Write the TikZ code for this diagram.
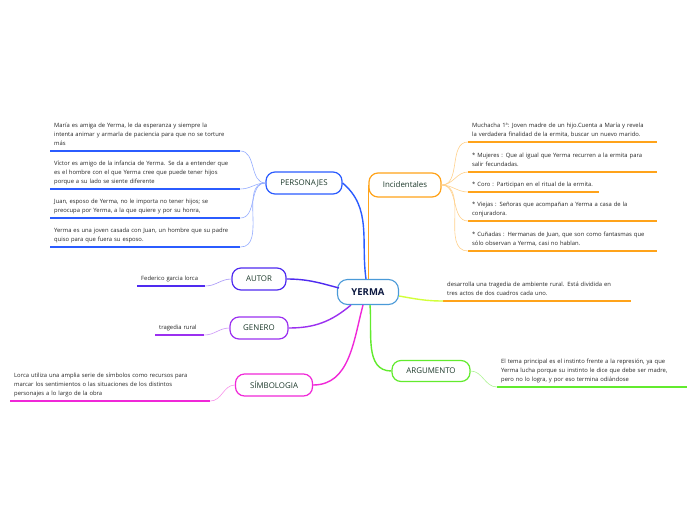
\documentclass[tikz,border=0pt]{standalone}
\usepackage{fontspec}
\setmainfont{Open Sans}
\usetikzlibrary{calc}
\definecolor{ymInk}{HTML}{1E3A2C}
\definecolor{ymText}{HTML}{262626}
\definecolor{ymRoot}{HTML}{4A9AD8}
\definecolor{ymPers}{HTML}{2B5CFF}
\definecolor{ymInc}{HTML}{FFA31A}
\definecolor{ymAut}{HTML}{4F2BF0}
\definecolor{ymGen}{HTML}{9B30F0}
\definecolor{ymSim}{HTML}{F028D8}
\definecolor{ymArg}{HTML}{62EB2E}
\definecolor{ymLime}{HTML}{D2FF3A}
\tikzset{
  ymroot/.style={
    draw=ymRoot, fill=white, line width=1.1pt, rounded corners=10pt,
    minimum width=61pt, minimum height=25pt, text=ymInk!70!blue!60!black,
    font=\fontsize{9.5}{11}\selectfont\bfseries,
  },
  ymtopic/.style={
    draw=#1, fill=white, line width=1.2pt, rounded corners=9pt,
    minimum height=22pt, text=ymInk, font=\fontsize{7.9}{9}\selectfont,
  },
  ymleaf/.style={
    text=ymText, font=\fontsize{5.85}{8.7}\selectfont, align=left,
    anchor=south west, inner xsep=4pt, inner ysep=3pt,
  },
  ymrule/.style={draw=#1, line width=1.6pt},
  ymtwig/.style={draw=#1!50, line width=0.6pt},
  ymlink/.style={draw=#1, line width=1.4pt},
}
% name, colour, x, y of rule, text width, text
\newcommand{\ymleaf}[6]{%
  \node[ymleaf, text width=#5pt] (#1) at (#3,#4) {#6\strut};%
  \draw[ymrule=#2] (#1.south west) -- (#1.south east);%
}

\begin{document}
\begin{tikzpicture}[x=1pt, y=-1pt]
\useasboundingbox[fill=white] (0,0) rectangle (696,520);

% Centre and branches ------------------------------------------------------
\node[ymroot] (yerma) at (368,292) {YERMA};
\node[ymtopic=ymPers, minimum width=76pt] (pers) at (304,183) {PERSONAJES};
\node[ymtopic=ymInc, minimum width=72pt, minimum height=24pt] (incid) at (405,185) {Incidentales};
\node[ymtopic=ymAut, minimum width=54pt] (autor) at (259,279) {AUTOR};
\node[ymtopic=ymGen, minimum width=58pt] (genero) at (259,328) {GENERO};
\node[ymtopic=ymSim, minimum width=77pt] (simb) at (274,385) {SÍMBOLOGIA};
\node[ymtopic=ymArg, minimum width=78pt, minimum height=21pt] (argum) at (431,371) {ARGUMENTO};

% Personajes ---------------------------------------------------------------
\ymleaf{p1}{ymPers}{50}{151}{182}{María es amiga de Yerma, le da esperanza y siempre la\\
  intenta animar y armarla de paciencia para que no se torture\\ más}
\ymleaf{p2}{ymPers}{50}{189}{182}{Víctor es amigo de la infancia de Yerma. Se da a entender que\\
  es el hombre con el que Yerma cree que puede tener hijos\\ porque a su lado se siente diferente}
\ymleaf{p3}{ymPers}{50}{218}{182}{Juan, esposo de Yerma, no le importa no tener hijos; se\\
  preocupa por Yerma, a la que quiere y por su honra,}
\ymleaf{p4}{ymPers}{50}{247}{182}{Yerma es una joven casada con Juan, un hombre que su padre\\
  quiso para que fuera su esposo.}

% Incidentales -------------------------------------------------------------
\ymleaf{i1}{ymInc}{468}{142}{181}{Muchacha 1ª: Joven madre de un hijo.Cuenta a María y revela\\
  la verdadera finalidad de la ermita, buscar un nuevo marido.}
\ymleaf{i2}{ymInc}{468}{172}{181}{* Mujeres : Que al igual que Yerma recurren a la ermita para\\
  salir fecundadas.}
\ymleaf{i3}{ymInc}{468}{192}{123}{* Coro : Participan en el ritual de la ermita.}
\ymleaf{i4}{ymInc}{468}{221}{181}{* Viejas : Señoras que acompañan a Yerma a casa de la\\
  conjuradora.}
\ymleaf{i5}{ymInc}{468}{251}{181}{* Cuñadas : Hermanas de Juan, que son como fantasmas que\\
  sólo observan a Yerma, casi no hablan.}

% Other leaves -------------------------------------------------------------
\ymleaf{a1}{ymAut}{137}{286}{60}{Federico garcia lorca}
\ymleaf{g1}{ymGen}{155}{335}{41}{tragedia rural}
\ymleaf{s1}{ymSim}{10}{401}{192}{Lorca utiliza una amplia serie de símbolos como recursos para\\
  marcar los sentimientos o las situaciones de los distintos\\ personajes a lo largo de la obra}
\ymleaf{r1}{ymArg}{497}{387}{182}{El tema principal es el instinto frente a la represión, ya que\\
  Yerma lucha porque su instinto le dice que debe ser madre,\\ pero no lo logra, y por eso termina odiándose}
\ymleaf{d1}{ymInc}{443}{301}{180}{desarrolla una tragedia de ambiente rural. Está dividida en\\
  tres actos de dos cuadros cada uno.}

% Twigs --------------------------------------------------------------------
\foreach \lf in {p1, p2, p3, p4}{%
  \draw[ymtwig=ymPers] (pers.west) to[out=180, in=0] (\lf.south east);
}
\foreach \lf in {i1, i2, i3, i4, i5}{%
  \draw[ymtwig=ymInc] (incid.east) to[out=0, in=180] (\lf.south west);
}
\draw[ymtwig=ymAut] (autor.west) to[out=180, in=0] (a1.south east);
\draw[ymtwig=ymGen] (genero.west) to[out=180, in=0] (g1.south east);
\draw[ymtwig=ymSim] (simb.west) to[out=180, in=0] (s1.south east);
\draw[ymtwig=ymArg] (argum.east) to[out=0, in=180] (r1.south west);

% Main links ---------------------------------------------------------------
\draw[ymlink=ymPers] (pers.east) to[out=-40, in=98] ($(yerma.north)+(-2,0)$);
\draw[ymlink=ymInc] (yerma.north -| incid.west) -- (incid.west);
\draw[ymlink=ymAut] (autor.east) to[out=0, in=165] ($(yerma.west)+(2,-4)$);
\draw[ymlink=ymGen] (genero.east) to[out=0, in=-140] ($(yerma.south west)+(14,0)$);
\draw[ymlink=ymSim] (simb.east) to[out=0, in=-105] ($(yerma.south)+(-5,0)$);
\draw[ymlink=ymArg] ($(yerma.south)+(2,0)$) to[out=-85, in=180] (argum.west);
\draw[ymlink=ymLime] ($(yerma.east)+(0,4)$) to[out=-10, in=180] (d1.south west);

\end{tikzpicture}
\end{document}
